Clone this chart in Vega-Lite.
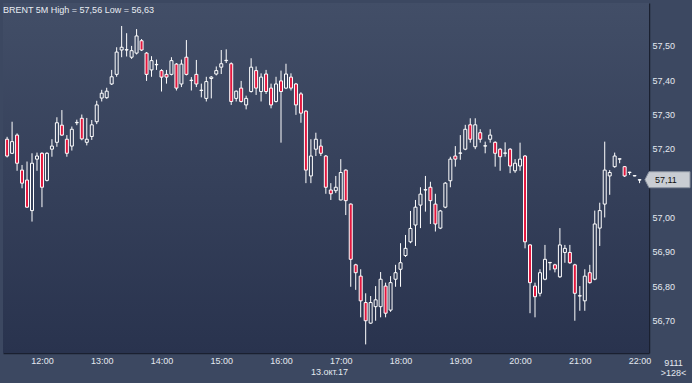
{
  "$schema": "https://vega.github.io/schema/vega-lite/v6.json",
  "width": 646,
  "height": 350,
  "autosize": {"type": "none"},
  "padding": {"left": 3, "top": 3, "right": 43, "bottom": 30},
  "background": "#3c4861",
  "title": {"text": "BRENT 5M High = 57,56 Low = 56,63", "anchor": "start", "frame": "group", "offset": -10, "dy": 9, "baseline": "alphabetic", "font": "Liberation Sans", "fontSize": 9, "fontWeight": "normal", "color": "#e8ecf2"},
  "config": {
    "view": {"stroke": null},
    "axis": {"labelFont": "Liberation Sans", "labelFontSize": 9, "titleFont": "Liberation Sans", "titleFontSize": 9, "titleFontWeight": "normal", "titleColor": "#e4e9f0"}
  },
  "datasets": {
    "candles": [
    {"t":"2017-10-13T11:25:00","o":57.228,"h":57.235,"l":57.175,"c":57.179},
    {"t":"2017-10-13T11:30:00","o":57.187,"h":57.279,"l":57.185,"c":57.221},
    {"t":"2017-10-13T11:35:00","o":57.24,"h":57.245,"l":57.136,"c":57.158},
    {"t":"2017-10-13T11:40:00","o":57.138,"h":57.153,"l":57.085,"c":57.10},
    {"t":"2017-10-13T11:45:00","o":57.109,"h":57.163,"l":57.028,"c":57.03},
    {"t":"2017-10-13T11:50:00","o":57.02,"h":57.187,"l":56.988,"c":57.158},
    {"t":"2017-10-13T11:55:00","o":57.17,"h":57.189,"l":57.136,"c":57.179},
    {"t":"2017-10-13T12:00:00","o":57.187,"h":57.19,"l":57.03,"c":57.088},
    {"t":"2017-10-13T12:05:00","o":57.108,"h":57.19,"l":57.105,"c":57.187},
    {"t":"2017-10-13T12:10:00","o":57.199,"h":57.228,"l":57.177,"c":57.208},
    {"t":"2017-10-13T12:15:00","o":57.219,"h":57.292,"l":57.206,"c":57.276},
    {"t":"2017-10-13T12:20:00","o":57.269,"h":57.313,"l":57.238,"c":57.24},
    {"t":"2017-10-13T12:25:00","o":57.228,"h":57.24,"l":57.177,"c":57.187},
    {"t":"2017-10-13T12:30:00","o":57.208,"h":57.265,"l":57.195,"c":57.257},
    {"t":"2017-10-13T12:35:00","o":57.276,"h":57.285,"l":57.269,"c":57.277},
    {"t":"2017-10-13T12:40:00","o":57.289,"h":57.30,"l":57.225,"c":57.229},
    {"t":"2017-10-13T12:45:00","o":57.219,"h":57.29,"l":57.21,"c":57.228},
    {"t":"2017-10-13T12:50:00","o":57.236,"h":57.284,"l":57.226,"c":57.27},
    {"t":"2017-10-13T12:55:00","o":57.279,"h":57.34,"l":57.272,"c":57.328},
    {"t":"2017-10-13T13:00:00","o":57.348,"h":57.372,"l":57.338,"c":57.362},
    {"t":"2017-10-13T13:05:00","o":57.349,"h":57.378,"l":57.346,"c":57.368},
    {"t":"2017-10-13T13:10:00","o":57.389,"h":57.43,"l":57.386,"c":57.41},
    {"t":"2017-10-13T13:15:00","o":57.417,"h":57.496,"l":57.41,"c":57.482},
    {"t":"2017-10-13T13:20:00","o":57.488,"h":57.558,"l":57.467,"c":57.496},
    {"t":"2017-10-13T13:25:00","o":57.488,"h":57.537,"l":57.469,"c":57.489},
    {"t":"2017-10-13T13:30:00","o":57.467,"h":57.50,"l":57.462,"c":57.486},
    {"t":"2017-10-13T13:35:00","o":57.479,"h":57.549,"l":57.475,"c":57.529},
    {"t":"2017-10-13T13:40:00","o":57.515,"h":57.52,"l":57.485,"c":57.488},
    {"t":"2017-10-13T13:45:00","o":57.479,"h":57.482,"l":57.398,"c":57.417},
    {"t":"2017-10-13T13:50:00","o":57.43,"h":57.47,"l":57.41,"c":57.457},
    {"t":"2017-10-13T13:55:00","o":57.445,"h":57.46,"l":57.43,"c":57.446},
    {"t":"2017-10-13T14:00:00","o":57.428,"h":57.432,"l":57.367,"c":57.409},
    {"t":"2017-10-13T14:05:00","o":57.417,"h":57.43,"l":57.39,"c":57.409},
    {"t":"2017-10-13T14:10:00","o":57.417,"h":57.467,"l":57.414,"c":57.457},
    {"t":"2017-10-13T14:15:00","o":57.447,"h":57.45,"l":57.37,"c":57.377},
    {"t":"2017-10-13T14:20:00","o":57.389,"h":57.46,"l":57.38,"c":57.447},
    {"t":"2017-10-13T14:25:00","o":57.467,"h":57.517,"l":57.414,"c":57.417},
    {"t":"2017-10-13T14:30:00","o":57.399,"h":57.409,"l":57.37,"c":57.40},
    {"t":"2017-10-13T14:35:00","o":57.417,"h":57.459,"l":57.38,"c":57.389},
    {"t":"2017-10-13T14:40:00","o":57.37,"h":57.39,"l":57.35,"c":57.371},
    {"t":"2017-10-13T14:45:00","o":57.347,"h":57.41,"l":57.338,"c":57.396},
    {"t":"2017-10-13T14:50:00","o":57.405,"h":57.412,"l":57.347,"c":57.409},
    {"t":"2017-10-13T14:55:00","o":57.418,"h":57.44,"l":57.414,"c":57.428},
    {"t":"2017-10-13T15:00:00","o":57.438,"h":57.488,"l":57.418,"c":57.448},
    {"t":"2017-10-13T15:05:00","o":57.457,"h":57.49,"l":57.45,"c":57.458},
    {"t":"2017-10-13T15:10:00","o":57.448,"h":57.452,"l":57.328,"c":57.338},
    {"t":"2017-10-13T15:15:00","o":57.347,"h":57.37,"l":57.338,"c":57.368},
    {"t":"2017-10-13T15:20:00","o":57.377,"h":57.398,"l":57.335,"c":57.338},
    {"t":"2017-10-13T15:25:00","o":57.328,"h":57.355,"l":57.315,"c":57.347},
    {"t":"2017-10-13T15:30:00","o":57.367,"h":57.464,"l":57.364,"c":57.438},
    {"t":"2017-10-13T15:35:00","o":57.428,"h":57.44,"l":57.357,"c":57.377},
    {"t":"2017-10-13T15:40:00","o":57.367,"h":57.42,"l":57.338,"c":57.409},
    {"t":"2017-10-13T15:45:00","o":57.418,"h":57.43,"l":57.36,"c":57.367},
    {"t":"2017-10-13T15:50:00","o":57.377,"h":57.39,"l":57.318,"c":57.328},
    {"t":"2017-10-13T15:55:00","o":57.338,"h":57.41,"l":57.335,"c":57.389},
    {"t":"2017-10-13T16:00:00","o":57.398,"h":57.428,"l":57.218,"c":57.367},
    {"t":"2017-10-13T16:05:00","o":57.377,"h":57.448,"l":57.374,"c":57.418},
    {"t":"2017-10-13T16:10:00","o":57.409,"h":57.42,"l":57.37,"c":57.377},
    {"t":"2017-10-13T16:15:00","o":57.389,"h":57.392,"l":57.299,"c":57.328},
    {"t":"2017-10-13T16:20:00","o":57.36,"h":57.365,"l":57.276,"c":57.304},
    {"t":"2017-10-13T16:25:00","o":57.31,"h":57.312,"l":57.10,"c":57.138},
    {"t":"2017-10-13T16:30:00","o":57.121,"h":57.228,"l":57.10,"c":57.179},
    {"t":"2017-10-13T16:35:00","o":57.199,"h":57.247,"l":57.179,"c":57.228},
    {"t":"2017-10-13T16:40:00","o":57.208,"h":57.228,"l":57.179,"c":57.187},
    {"t":"2017-10-13T16:45:00","o":57.179,"h":57.182,"l":57.069,"c":57.088},
    {"t":"2017-10-13T16:50:00","o":57.080,"h":57.10,"l":57.051,"c":57.069},
    {"t":"2017-10-13T16:55:00","o":57.078,"h":57.121,"l":57.071,"c":57.088},
    {"t":"2017-10-13T17:00:00","o":57.051,"h":57.17,"l":57.05,"c":57.131},
    {"t":"2017-10-13T17:05:00","o":57.138,"h":57.14,"l":57.007,"c":57.049},
    {"t":"2017-10-13T17:10:00","o":57.039,"h":57.041,"l":56.798,"c":56.878},
    {"t":"2017-10-13T17:15:00","o":56.862,"h":56.865,"l":56.789,"c":56.839},
    {"t":"2017-10-13T17:20:00","o":56.829,"h":56.849,"l":56.709,"c":56.757},
    {"t":"2017-10-13T17:25:00","o":56.752,"h":56.779,"l":56.63,"c":56.699},
    {"t":"2017-10-13T17:30:00","o":56.692,"h":56.771,"l":56.69,"c":56.752},
    {"t":"2017-10-13T17:35:00","o":56.74,"h":56.80,"l":56.699,"c":56.76},
    {"t":"2017-10-13T17:40:00","o":56.74,"h":56.841,"l":56.709,"c":56.82},
    {"t":"2017-10-13T17:45:00","o":56.80,"h":56.81,"l":56.709,"c":56.721},
    {"t":"2017-10-13T17:50:00","o":56.73,"h":56.829,"l":56.725,"c":56.81},
    {"t":"2017-10-13T17:55:00","o":56.82,"h":56.862,"l":56.798,"c":56.839},
    {"t":"2017-10-13T18:00:00","o":56.849,"h":56.925,"l":56.798,"c":56.868},
    {"t":"2017-10-13T18:05:00","o":56.889,"h":56.949,"l":56.885,"c":56.91},
    {"t":"2017-10-13T18:10:00","o":56.929,"h":57.019,"l":56.925,"c":56.968},
    {"t":"2017-10-13T18:15:00","o":56.978,"h":57.051,"l":56.917,"c":57.03},
    {"t":"2017-10-13T18:20:00","o":57.036,"h":57.088,"l":56.969,"c":57.068},
    {"t":"2017-10-13T18:25:00","o":57.08,"h":57.121,"l":57.017,"c":57.081},
    {"t":"2017-10-13T18:30:00","o":57.088,"h":57.104,"l":56.981,"c":57.049},
    {"t":"2017-10-13T18:35:00","o":57.039,"h":57.069,"l":56.959,"c":56.981},
    {"t":"2017-10-13T18:40:00","o":56.969,"h":57.022,"l":56.966,"c":57.019},
    {"t":"2017-10-13T18:45:00","o":57.03,"h":57.103,"l":57.027,"c":57.10},
    {"t":"2017-10-13T18:50:00","o":57.107,"h":57.177,"l":57.088,"c":57.17},
    {"t":"2017-10-13T18:55:00","o":57.179,"h":57.208,"l":57.148,"c":57.17},
    {"t":"2017-10-13T19:00:00","o":57.187,"h":57.24,"l":57.168,"c":57.188},
    {"t":"2017-10-13T19:05:00","o":57.199,"h":57.27,"l":57.196,"c":57.257},
    {"t":"2017-10-13T19:10:00","o":57.27,"h":57.289,"l":57.218,"c":57.228},
    {"t":"2017-10-13T19:15:00","o":57.206,"h":57.289,"l":57.199,"c":57.27},
    {"t":"2017-10-13T19:20:00","o":57.247,"h":57.257,"l":57.218,"c":57.228},
    {"t":"2017-10-13T19:25:00","o":57.208,"h":57.221,"l":57.187,"c":57.209},
    {"t":"2017-10-13T19:30:00","o":57.228,"h":57.257,"l":57.218,"c":57.24},
    {"t":"2017-10-13T19:35:00","o":57.219,"h":57.222,"l":57.148,"c":57.187},
    {"t":"2017-10-13T19:40:00","o":57.199,"h":57.202,"l":57.136,"c":57.177},
    {"t":"2017-10-13T19:45:00","o":57.187,"h":57.219,"l":57.177,"c":57.188},
    {"t":"2017-10-13T19:50:00","o":57.199,"h":57.202,"l":57.129,"c":57.15},
    {"t":"2017-10-13T19:55:00","o":57.136,"h":57.17,"l":57.13,"c":57.158},
    {"t":"2017-10-13T20:00:00","o":57.15,"h":57.218,"l":57.136,"c":57.17},
    {"t":"2017-10-13T20:05:00","o":57.179,"h":57.182,"l":56.91,"c":56.929},
    {"t":"2017-10-13T20:10:00","o":56.92,"h":56.922,"l":56.721,"c":56.81},
    {"t":"2017-10-13T20:15:00","o":56.80,"h":56.81,"l":56.709,"c":56.769},
    {"t":"2017-10-13T20:20:00","o":56.779,"h":56.849,"l":56.77,"c":56.839},
    {"t":"2017-10-13T20:25:00","o":56.82,"h":56.92,"l":56.817,"c":56.878},
    {"t":"2017-10-13T20:30:00","o":56.868,"h":56.87,"l":56.846,"c":56.869},
    {"t":"2017-10-13T20:35:00","o":56.862,"h":56.865,"l":56.84,"c":56.85},
    {"t":"2017-10-13T20:40:00","o":56.827,"h":56.969,"l":56.824,"c":56.92},
    {"t":"2017-10-13T20:45:00","o":56.898,"h":56.92,"l":56.868,"c":56.91},
    {"t":"2017-10-13T20:50:00","o":56.898,"h":56.92,"l":56.865,"c":56.868},
    {"t":"2017-10-13T20:55:00","o":56.862,"h":56.865,"l":56.699,"c":56.779},
    {"t":"2017-10-13T21:00:00","o":56.771,"h":56.80,"l":56.728,"c":56.772},
    {"t":"2017-10-13T21:05:00","o":56.757,"h":56.849,"l":56.728,"c":56.829},
    {"t":"2017-10-13T21:10:00","o":56.839,"h":56.862,"l":56.807,"c":56.81},
    {"t":"2017-10-13T21:15:00","o":56.82,"h":57.02,"l":56.817,"c":56.981},
    {"t":"2017-10-13T21:20:00","o":56.969,"h":57.043,"l":56.917,"c":57.02},
    {"t":"2017-10-13T21:25:00","o":57.039,"h":57.221,"l":57.0,"c":57.138},
    {"t":"2017-10-13T21:30:00","o":57.121,"h":57.138,"l":57.066,"c":57.131},
    {"t":"2017-10-13T21:35:00","o":57.148,"h":57.189,"l":57.145,"c":57.179},
    {"t":"2017-10-13T21:40:00","o":57.17,"h":57.172,"l":57.158,"c":57.171},
    {"t":"2017-10-13T21:45:00","o":57.148,"h":57.15,"l":57.118,"c":57.121},
    {"t":"2017-10-13T21:50:00","o":57.131,"h":57.133,"l":57.124,"c":57.132},
    {"t":"2017-10-13T21:55:00","o":57.121,"h":57.123,"l":57.12,"c":57.122},
    {"t":"2017-10-13T22:00:00","o":57.109,"h":57.112,"l":57.1,"c":57.11}
    ]
  },
  "layer": [
    {
      "data": {"values": [{"bg": 1}]},
      "mark": {"type": "rect", "fill": {"gradient": "linear", "x1": 0, "y1": 0, "x2": 0, "y2": 1, "stops": [{"offset": 0, "color": "#424e67"}, {"offset": 1, "color": "#29334e"}]}},
      "encoding": {"x": {"value": 0}, "x2": {"value": "width"}, "y": {"value": 0}, "y2": {"value": "height"}}
    },
    {
      "data": {"name": "candles"},
      "mark": {"type": "rule", "color": "#ffffff", "strokeWidth": 1, "clip": true},
      "encoding": {
        "x": {
          "field": "t", "type": "temporal",
          "scale": {"domain": [{"year": 2017, "month": 10, "date": 13, "hours": 11, "minutes": 25, "seconds": 54}, {"year": 2017, "month": 10, "date": 13, "hours": 22, "minutes": 4, "seconds": 26}]},
          "axis": {
            "tickCount": 11,
            "format": "%H:%M",
            "grid": true, "gridColor": "#5e6d89", "gridDash": [2, 3],
            "ticks": false, "labelPadding": 3, "labelFlush": false, "labelOverlap": false,
            "labelColor": "#e4e9f0", "domainColor": "#1a2030", "domainWidth": 1.5,
            "title": "13.окт.17", "titleX": 326, "titleY": 14, "titleBaseline": "top", "titleAlign": "center"
          }
        },
        "y": {
          "field": "l", "type": "quantitative",
          "scale": {"domain": [56.605, 57.625], "zero": false, "nice": false},
          "axis": {
            "orient": "right",
            "values": [56.7, 56.8, 56.9, 57, 57.1, 57.2, 57.3, 57.4, 57.5],
            "labelExpr": "datum.value == 57.1 ? '' : replace(format(datum.value, '.2f'), '.', ',')",
            "labelOverlap": false, "labelBound": false,
            "grid": true, "gridDash": [2, 3], "gridColor": "#5e6d89",
            "ticks": false, "labelPadding": 3,
            "labelColor": "#e4e9f0",
            "domainColor": "#1a2030", "domainWidth": 1.5,
            "title": ["9111", ">128<"], "titleAngle": 0, "titleX": 24, "titleY": 355,
            "titleAlign": "center", "titleBaseline": "top", "titleLineHeight": 10
          }
        },
        "y2": {"field": "h"}
      }
    },
    {
      "data": {"name": "candles"},
      "mark": {"type": "bar", "size": 3, "stroke": "#ffffff", "strokeWidth": 1, "clip": true},
      "encoding": {
        "x": {"field": "t", "type": "temporal"},
        "y": {"field": "o", "type": "quantitative"},
        "y2": {"field": "c"},
        "fill": {
          "condition": {"test": "datum.o > datum.c", "value": "#e3173e"},
          "field": "c", "type": "quantitative",
          "scale": {"domain": [56.605, 57.625], "range": ["#29334e", "#424e67"]},
          "legend": null
        }
      }
    },
    {
      "data": {"values": [{"p": 57.11, "lbl": "57,11"}]},
      "mark": {"type": "point", "shape": "M-0.2,0L0,-0.39L2,-0.39L2,0.39L0,0.39Z", "size": 1681, "filled": true, "fill": "#c9cdd3", "stroke": "#8a92a0", "strokeWidth": 1, "opacity": 1},
      "encoding": {"x": {"value": "width"}, "y": {"field": "p", "type": "quantitative"}}
    },
    {
      "data": {"values": [{"p": 57.11, "lbl": "57,11"}]},
      "mark": {"type": "text", "align": "left", "baseline": "middle", "dx": 6, "font": "Liberation Sans", "fontSize": 9, "color": "#101010"},
      "encoding": {"x": {"value": "width"}, "y": {"field": "p", "type": "quantitative"}, "text": {"field": "lbl"}}
    }
  ]
}
